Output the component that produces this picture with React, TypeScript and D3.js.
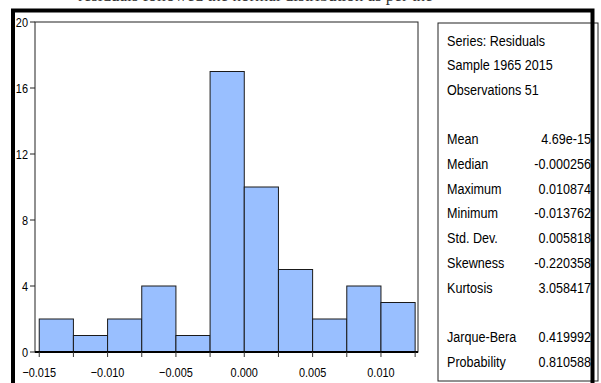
import React, { useEffect, useRef } from 'react';
import * as d3 from 'd3';

// histogram of residuals
const binStarts = [-0.015, -0.0125, -0.01, -0.0075, -0.005, -0.0025, 0.0, 0.0025, 0.005, 0.0075, 0.01];
const binWidth = 0.0025;
const counts = [2, 1, 2, 4, 1, 17, 10, 5, 2, 4, 3];

const yTicks = [0, 4, 8, 12, 16, 20];
const xLabelTicks = [-0.015, -0.01, -0.005, 0.0, 0.005, 0.01];
const xMinorTicks = [-0.015, -0.0125, -0.01, -0.0075, -0.005, -0.0025, 0.0, 0.0025, 0.005, 0.0075, 0.01, 0.0125];

const headerLines = ['Series: Residuals', 'Sample 1965 2015', 'Observations 51'];
const statNames = ['Mean', 'Median', 'Maximum', 'Minimum', 'Std. Dev.', 'Skewness', 'Kurtosis', '', 'Jarque-Bera', 'Probability'];
const statValues = ['4.69e-15', '-0.000256', '0.010874', '-0.013762', '0.005818', '-0.220358', '3.058417', '', '0.419992', '0.810588'];

const sans = "'Liberation Sans', Arial, sans-serif";
const squeeze = 0.84; // fake the narrow face EViews uses

// condensed text: translate to the anchor point, then squeeze horizontally
function narrowText(g: any, x: number, y: number, str: string, anchor: string, size: number) {
  g.append('text')
    .attr('transform', `translate(${x},${y}) scale(${squeeze},1)`)
    .attr('text-anchor', anchor)
    .style('font-family', sans)
    .style('font-size', size + 'px')
    .style('fill', '#000')
    .text(str);
}

export default function App() {
  const ref = useRef<SVGSVGElement>(null);

  useEffect(() => {
    const svg = d3.select(ref.current);
    svg.selectAll('*').remove();

    var plot = { left: 35, right: 418, top: 22, bottom: 352 };

    var xScale = d3.scaleLinear()
      .domain([-0.01531, 0.01271])
      .range([plot.left, plot.right]);
    var yScale = d3.scaleLinear()
      .domain([0, 20])
      .range([plot.bottom, plot.top]);

    // cut-off line of the surrounding document
    svg.append('text')
      .attr('x', 78)
      .attr('y', 0.5)
      .style('font-family', "'Liberation Serif', 'Times New Roman', serif")
      .style('font-size', '17px')
      .style('fill', '#333')
      .text('residuals followed the normal distribution as per the');

    // bars
    svg.append('g').selectAll('rect')
      .data(counts)
      .join('rect')
      .attr('x', (d, i) => xScale(binStarts[i]))
      .attr('y', d => yScale(d))
      .attr('width', (d, i) => xScale(binStarts[i] + binWidth) - xScale(binStarts[i]))
      .attr('height', d => yScale(0) - yScale(d))
      .style('fill', '#99bfff')
      .style('stroke', '#1a1a1a')
      .style('stroke-width', 1);

    // frame
    svg.append('rect')
      .attr('x', plot.left)
      .attr('y', plot.top)
      .attr('width', plot.right - plot.left)
      .attr('height', plot.bottom - plot.top)
      .style('fill', 'none')
      .style('stroke', '#222')
      .style('stroke-width', 1);
    svg.append('line')
      .attr('x1', plot.left).attr('x2', plot.right)
      .attr('y1', plot.bottom).attr('y2', plot.bottom)
      .style('stroke', '#000').style('stroke-width', 2);

    // y axis
    var yg = svg.append('g');
    yTicks.forEach(t => {
      yg.append('line')
        .attr('x1', plot.left - 5).attr('x2', plot.left)
        .attr('y1', yScale(t)).attr('y2', yScale(t))
        .style('stroke', '#222');
      narrowText(yg, plot.left - 7, yScale(t) + 4.5, String(t), 'end', 13);
    });

    // x axis
    svg.append('g')
      .attr('transform', `translate(0,${plot.bottom})`)
      .selectAll('line')
      .data(xMinorTicks)
      .join('line')
      .attr('x1', d => xScale(d)).attr('x2', d => xScale(d))
      .attr('y1', 0).attr('y2', 5)
      .style('stroke', '#333');
    var xg = svg.append('g');
    xLabelTicks.forEach(t => {
      narrowText(xg, xScale(t), 377, d3.format('.3f')(t), 'middle', 13);
    });

    // stats box
    svg.append('rect')
      .attr('x', 438).attr('y', 23)
      .attr('width', 160).attr('height', 358)
      .style('fill', 'none').style('stroke', '#222');

    var rowY = d3.scaleLinear().domain([0, 1]).range([45.5, 70.2]);
    var st = svg.append('g');
    headerLines.forEach((s, i) => narrowText(st, 447, rowY(i), s, 'start', 15));
    statNames.forEach((s, i) => narrowText(st, 447, rowY(i + 4), s, 'start', 15));
    statValues.forEach((s, i) => narrowText(st, 591, rowY(i + 4), s, 'end', 15));

    // outer thick border
    svg.append('path')
      .attr('d', 'M13,400 L13,10.5 L592.5,10.5 L592.5,400')
      .style('fill', 'none')
      .style('stroke', '#000')
      .style('stroke-width', 4);
  }, []);

  return (
    <svg ref={ref} width={601} height={383}
      style={{ position: 'absolute', left: 0, top: 0, background: '#fff' }} />
  );
}
